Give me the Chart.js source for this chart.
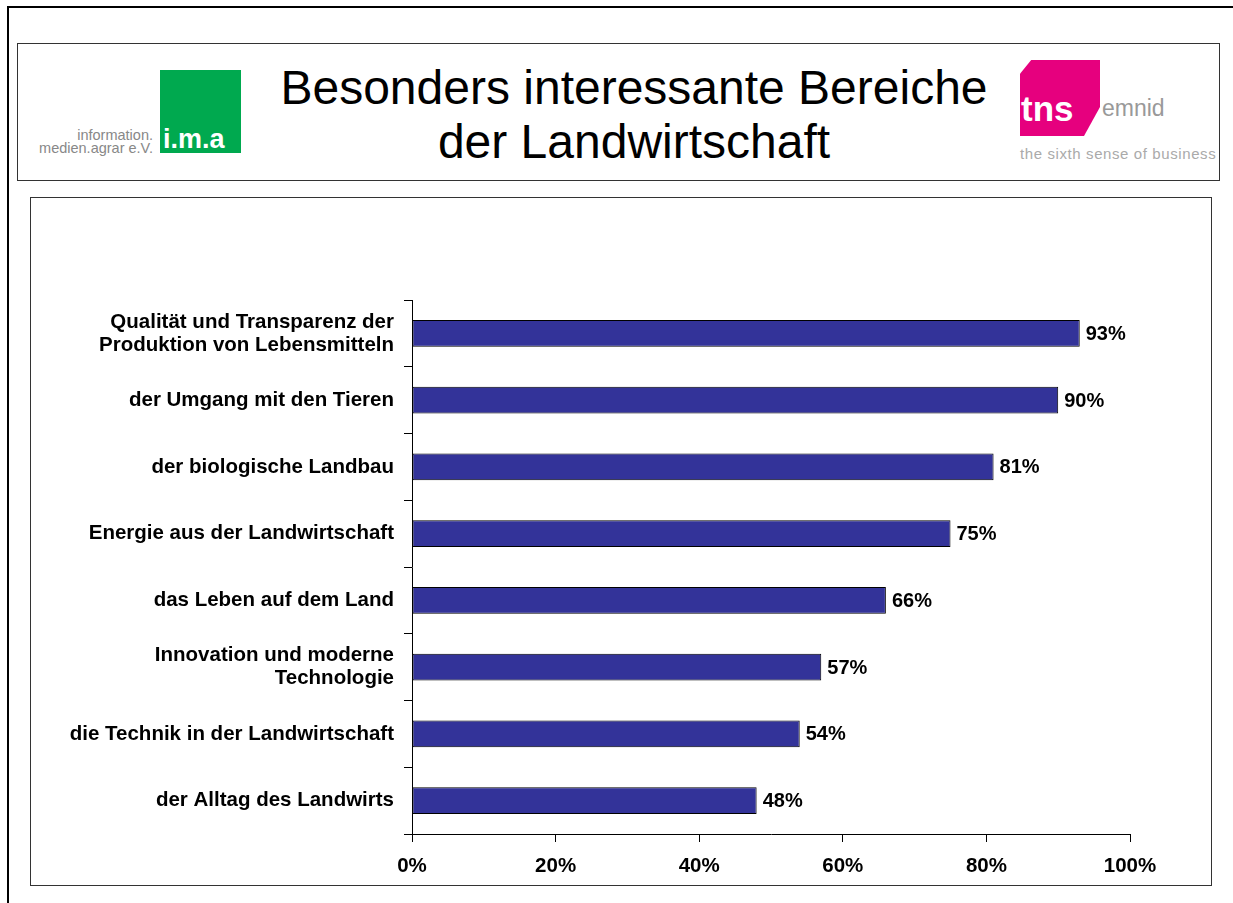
<!DOCTYPE html>
<html><head><meta charset="utf-8">
<script src="https://cdn.jsdelivr.net/npm/chart.js@4"></script>
<style>
body{margin:0;width:1233px;height:903px;background:#fff;position:relative;overflow:hidden;font-family:Arial,"Liberation Sans",sans-serif}
.ot{position:absolute;left:7px;top:6px;width:1226px;height:2px;background:#000}
.ol{position:absolute;left:7px;top:6px;width:2px;height:897px;background:#000}
.header{position:absolute;left:17px;top:43px;width:1201px;height:136px;border:1px solid #333;box-sizing:content-box}
.chartbox{position:absolute;left:30px;top:197px;width:1180px;height:687px;border:1px solid #333}
.title{position:absolute;left:234px;top:61px;width:800px;text-align:center;font-size:48px;line-height:54px;color:#000}
.ima{position:absolute;left:160px;top:70px;width:81px;height:83px;background:#00a94f}
.ima span{position:absolute;left:3px;bottom:-2px;color:#fff;font-weight:bold;font-size:27px;letter-spacing:0px}
.imatxt{position:absolute;left:0px;top:129px;width:153px;text-align:right;font-size:14.5px;line-height:13px;color:#888}
.tns{position:absolute;left:1020px;top:60px;width:80px;height:76px;background:#e6007e;clip-path:polygon(14% 0,100% 0,100% 62%,80% 100%,0 100%,0 18%)}
.tnstxt{position:absolute;left:1021px;top:89px;color:#fff;font-weight:bold;font-size:35px;letter-spacing:0px}
.emnid{position:absolute;left:1102px;top:95px;color:#999;font-size:23px}
.sixth{position:absolute;left:1020px;top:145px;color:#aaa;font-size:15px;white-space:nowrap;letter-spacing:0.6px}
</style></head><body>
<div class="ot"></div><div class="ol"></div>
<div class="header"></div>
<div class="ima"><span>i.m.a</span></div>
<div class="imatxt">information.<br>medien.agrar e.V.</div>
<div class="title">Besonders interessante Bereiche<br>der Landwirtschaft</div>
<div class="tns"></div><div class="tnstxt">tns</div><div class="emnid">emnid</div>
<div class="sixth">the sixth sense of business</div>
<div class="chartbox"><canvas id="c" width="1180" height="687"></canvas></div>
<script>
const categories = [
  ['Qualität und Transparenz der', 'Produktion von Lebensmitteln'],
  'der Umgang mit den Tieren',
  'der biologische Landbau',
  'Energie aus der Landwirtschaft',
  'das Leben auf dem Land',
  ['Innovation und moderne', 'Technologie'],
  'die Technik in der Landwirtschaft',
  'der Alltag des Landwirts'
];
const values = [93, 90, 81, 75, 66, 57, 54, 48];
const xTicks = [0, 20, 40, 60, 80, 100];

const FONT = 'Arial, "Liberation Sans", sans-serif';

const valueLabels = {
  id: 'valueLabels',
  afterDatasetsDraw(chart) {
    const ctx = chart.ctx;
    const meta = chart.getDatasetMeta(0);
    ctx.save();
    ctx.font = 'bold 20px ' + FONT;
    ctx.fillStyle = '#000';
    ctx.textAlign = 'left';
    ctx.textBaseline = 'middle';
    meta.data.forEach((bar, i) => {
      ctx.fillText(values[i] + '%', bar.x + 6, bar.y + 1);
    });
    ctx.restore();
  }
};

new Chart(document.getElementById('c'), {
  type: 'bar',
  data: {
    labels: categories,
    datasets: [{
      data: values,
      backgroundColor: '#333399',
      borderColor: '#000',
      borderWidth: 1,
      borderSkipped: false,
      categoryPercentage: 1,
      barPercentage: 0.4
    }]
  },
  options: {
    indexAxis: 'y',
    responsive: false,
    animation: false,
    layout: { padding: { top: 102, right: 81, left: 0, bottom: 0 } },
    plugins: { legend: { display: false }, tooltip: { enabled: false } },
    scales: {
      x: {
        min: 0, max: 100,
        afterBuildTicks(scale) { scale.ticks = xTicks.map(v => ({ value: v })); },
        afterFit(scale) { scale.height = 51; },
        border: { color: '#000', width: 1 },
        grid: { drawOnChartArea: false, drawTicks: true, tickLength: 8, color: '#000' },
        ticks: {
          color: '#000', padding: 12,
          font: { family: FONT, size: 20.5, weight: 'bold' },
          callback: v => v + '%'
        }
      },
      y: {
        afterFit(scale) { scale.width = 381; },
        border: { color: '#000', width: 1 },
        grid: { drawOnChartArea: false, drawTicks: true, tickLength: 8, color: '#000', offset: true },
        ticks: {
          color: '#000', padding: 10,
          font: { family: FONT, size: 20.5, weight: 'bold', lineHeight: 1.12 }
        }
      }
    }
  },
  plugins: [valueLabels]
});
</script>
</body></html>
